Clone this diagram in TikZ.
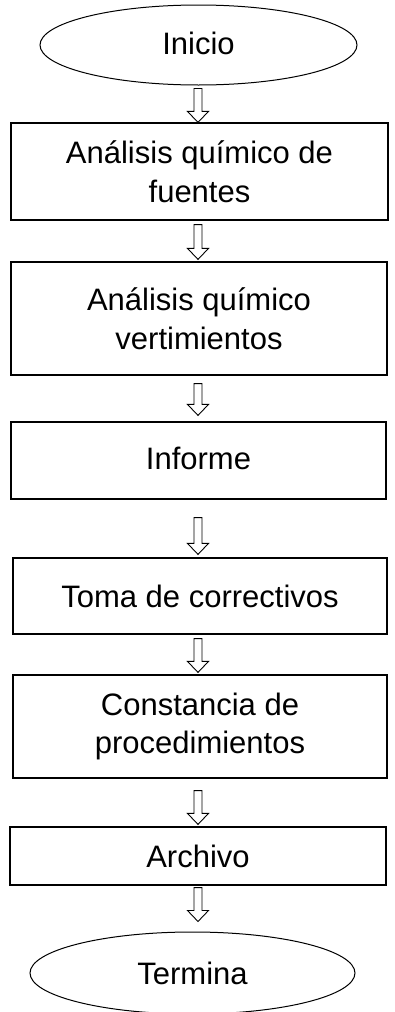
\documentclass[tikz,border=0pt]{standalone}
\usepackage{fontspec}
\setmainfont{Liberation Sans}
\usetikzlibrary{calc,shapes.geometric}
\tikzset{
  boxnode/.style={draw, line width=1.2pt, rectangle, inner sep=0pt, align=center,
    font=\fontsize{31}{38.5}\selectfont},
  ovalnode/.style={draw, line width=1pt, ellipse, inner sep=0pt,
    font=\fontsize{31}{38.5}\selectfont},
  arrowline/.style={draw, line width=0.9pt, fill=white, line join=miter}
}
\newcommand{\flowarrow}[4]{%
  \draw[arrowline] let \p1=(#1.south), \p2=(#2.north) in
   (194pt,\y1-#3pt) -- (202pt,\y1-#3pt) -- (202pt,\y2+#4pt+11pt) --
   (208.5pt,\y2+#4pt+11pt) -- (198pt,\y2+#4pt) -- (187.5pt,\y2+#4pt+11pt) --
   (194pt,\y2+#4pt+11pt) -- cycle;}
\begin{document}
\begin{tikzpicture}[x=1pt,y=-1pt]
\useasboundingbox (0,0) rectangle (394,1012);
\node[ovalnode, minimum width=317pt, minimum height=80pt] (inicio) at (198.5,45) {\raisebox{3pt}{Inicio}};
\node[boxnode, minimum width=377pt, minimum height=97pt] (fuentes) at (199.5,171.5) {Análisis químico de\\fuentes};
\node[boxnode, minimum width=376pt, minimum height=113pt] (vert) at (199,318.5) {Análisis químico\\vertimientos};
\node[boxnode, minimum width=375pt, minimum height=77pt] (informe) at (198.5,460.5) {\raisebox{4pt}{Informe}};
\node[boxnode, minimum width=374pt, minimum height=76pt] (toma) at (200,596) {Toma de correctivos};
\node[boxnode, minimum width=374pt, minimum height=103pt] (const) at (200,726.5) {Constancia de\\procedimientos};
\node[boxnode, minimum width=376pt, minimum height=58pt] (archivo) at (198,856) {Archivo};
\node[ovalnode, minimum width=325pt, minimum height=82pt] (termina) at (192.5,973) {Termina};
\flowarrow{inicio}{fuentes}{3}{0}
\flowarrow{fuentes}{vert}{4}{2}
\flowarrow{vert}{informe}{8}{6}
\flowarrow{informe}{toma}{18}{3}
\flowarrow{toma}{const}{4}{2}
\flowarrow{const}{archivo}{12}{2}
\flowarrow{archivo}{termina}{2}{10}
\end{tikzpicture}
\end{document}
